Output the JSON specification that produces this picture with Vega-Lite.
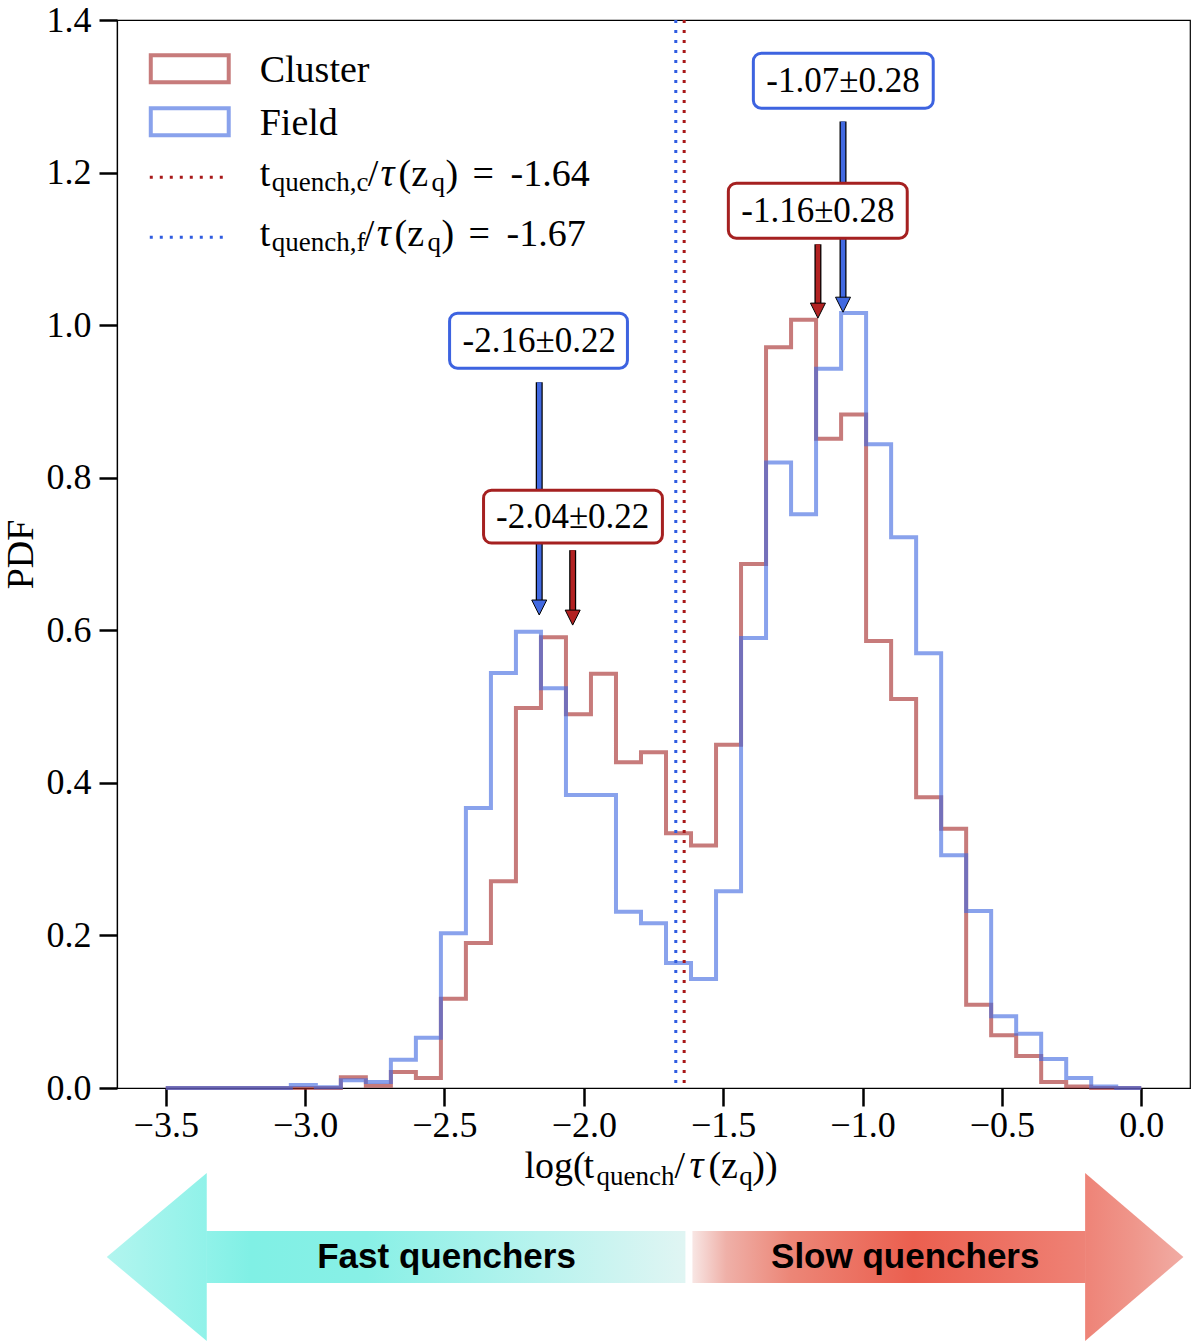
{
  "$schema": "https://vega.github.io/schema/vega-lite/v6.json",
  "width": 1073,
  "height": 1068,
  "autosize": {"type": "none"},
  "padding": {"left": 117, "top": 20, "right": 10, "bottom": 254},
  "background": "white",
  "config": {
    "view": {"stroke": "black", "strokeWidth": 1.2},
    "font": "Liberation Serif",
    "axis": {
      "labelFont": "Liberation Serif", "labelFontSize": 36, "labelColor": "black",
      "tickColor": "black", "tickWidth": 2.5, "tickSize": 18,
      "domainColor": "black", "domainWidth": 1.2, "grid": false,
      "titleFont": "Liberation Serif", "titleFontWeight": "normal", "titleColor": "black"
    }
  },
  "datasets": {
    "hist": [
      {"group": "Cluster", "edge": -3.5, "pdf": 0}, {"group": "Cluster", "edge": -3.4103, "pdf": 0}, {"group": "Cluster", "edge": -3.3205, "pdf": 0}, {"group": "Cluster", "edge": -3.2308, "pdf": 0}, {"group": "Cluster", "edge": -3.141, "pdf": 0}, {"group": "Cluster", "edge": -3.0513, "pdf": 0}, {"group": "Cluster", "edge": -2.9615, "pdf": 0}, {"group": "Cluster", "edge": -2.8718, "pdf": 0.014}, {"group": "Cluster", "edge": -2.7821, "pdf": 0.003}, {"group": "Cluster", "edge": -2.6923, "pdf": 0.021}, {"group": "Cluster", "edge": -2.6026, "pdf": 0.013}, {"group": "Cluster", "edge": -2.5128, "pdf": 0.117}, {"group": "Cluster", "edge": -2.4231, "pdf": 0.19}, {"group": "Cluster", "edge": -2.3333, "pdf": 0.271}, {"group": "Cluster", "edge": -2.2436, "pdf": 0.498}, {"group": "Cluster", "edge": -2.1538, "pdf": 0.591}, {"group": "Cluster", "edge": -2.0641, "pdf": 0.49}, {"group": "Cluster", "edge": -1.9744, "pdf": 0.543}, {"group": "Cluster", "edge": -1.8846, "pdf": 0.427}, {"group": "Cluster", "edge": -1.7949, "pdf": 0.44}, {"group": "Cluster", "edge": -1.7051, "pdf": 0.334}, {"group": "Cluster", "edge": -1.6154, "pdf": 0.318}, {"group": "Cluster", "edge": -1.5256, "pdf": 0.45}, {"group": "Cluster", "edge": -1.4359, "pdf": 0.687}, {"group": "Cluster", "edge": -1.3462, "pdf": 0.971}, {"group": "Cluster", "edge": -1.2564, "pdf": 1.007}, {"group": "Cluster", "edge": -1.1667, "pdf": 0.851}, {"group": "Cluster", "edge": -1.0769, "pdf": 0.883}, {"group": "Cluster", "edge": -0.9872, "pdf": 0.586}, {"group": "Cluster", "edge": -0.8974, "pdf": 0.51}, {"group": "Cluster", "edge": -0.8077, "pdf": 0.381}, {"group": "Cluster", "edge": -0.7179, "pdf": 0.34}, {"group": "Cluster", "edge": -0.6282, "pdf": 0.109}, {"group": "Cluster", "edge": -0.5385, "pdf": 0.069}, {"group": "Cluster", "edge": -0.4487, "pdf": 0.042}, {"group": "Cluster", "edge": -0.359, "pdf": 0.008}, {"group": "Cluster", "edge": -0.2692, "pdf": 0.002}, {"group": "Cluster", "edge": -0.1795, "pdf": 0}, {"group": "Cluster", "edge": -0.0897, "pdf": 0}, {"group": "Cluster", "edge": 0, "pdf": 0},
      {"group": "Field", "edge": -3.5, "pdf": 0}, {"group": "Field", "edge": -3.4103, "pdf": 0}, {"group": "Field", "edge": -3.3205, "pdf": 0}, {"group": "Field", "edge": -3.2308, "pdf": 0}, {"group": "Field", "edge": -3.141, "pdf": 0}, {"group": "Field", "edge": -3.0513, "pdf": 0.004}, {"group": "Field", "edge": -2.9615, "pdf": 0.001}, {"group": "Field", "edge": -2.8718, "pdf": 0.01}, {"group": "Field", "edge": -2.7821, "pdf": 0.008}, {"group": "Field", "edge": -2.6923, "pdf": 0.037}, {"group": "Field", "edge": -2.6026, "pdf": 0.066}, {"group": "Field", "edge": -2.5128, "pdf": 0.203}, {"group": "Field", "edge": -2.4231, "pdf": 0.367}, {"group": "Field", "edge": -2.3333, "pdf": 0.544}, {"group": "Field", "edge": -2.2436, "pdf": 0.598}, {"group": "Field", "edge": -2.1538, "pdf": 0.524}, {"group": "Field", "edge": -2.0641, "pdf": 0.384}, {"group": "Field", "edge": -1.9744, "pdf": 0.384}, {"group": "Field", "edge": -1.8846, "pdf": 0.231}, {"group": "Field", "edge": -1.7949, "pdf": 0.216}, {"group": "Field", "edge": -1.7051, "pdf": 0.164}, {"group": "Field", "edge": -1.6154, "pdf": 0.143}, {"group": "Field", "edge": -1.5256, "pdf": 0.258}, {"group": "Field", "edge": -1.4359, "pdf": 0.59}, {"group": "Field", "edge": -1.3462, "pdf": 0.82}, {"group": "Field", "edge": -1.2564, "pdf": 0.752}, {"group": "Field", "edge": -1.1667, "pdf": 0.943}, {"group": "Field", "edge": -1.0769, "pdf": 1.016}, {"group": "Field", "edge": -0.9872, "pdf": 0.844}, {"group": "Field", "edge": -0.8974, "pdf": 0.722}, {"group": "Field", "edge": -0.8077, "pdf": 0.57}, {"group": "Field", "edge": -0.7179, "pdf": 0.305}, {"group": "Field", "edge": -0.6282, "pdf": 0.232}, {"group": "Field", "edge": -0.5385, "pdf": 0.094}, {"group": "Field", "edge": -0.4487, "pdf": 0.071}, {"group": "Field", "edge": -0.359, "pdf": 0.038}, {"group": "Field", "edge": -0.2692, "pdf": 0.013}, {"group": "Field", "edge": -0.1795, "pdf": 0.002}, {"group": "Field", "edge": -0.0897, "pdf": 0}, {"group": "Field", "edge": 0, "pdf": 0}
    ],
    "thresholds": [
      {"group": "Cluster", "value": -1.64},
      {"group": "Field", "value": -1.67}
    ],
    "medians": [
      {"group": "Field", "value": -2.16, "label": "-2.16±0.22", "start": 0.925, "base": 0.6396, "tip": 0.62, "bx1": -2.4817, "bx2": -1.8435, "by1": 1.0157, "by2": 0.9436, "ty": 0.9797},
      {"group": "Cluster", "value": -2.04, "label": "-2.04±0.22", "start": 0.705, "base": 0.6265, "tip": 0.6068, "bx1": -2.3598, "bx2": -1.718, "by1": 0.7837, "by2": 0.7143, "ty": 0.749},
      {"group": "Field", "value": -1.07, "label": "-1.07±0.28", "start": 1.267, "base": 1.0354, "tip": 1.017, "bx1": -1.3917, "bx2": -0.7463, "by1": 1.3565, "by2": 1.2844, "ty": 1.3204},
      {"group": "Cluster", "value": -1.16, "label": "-1.16±0.28", "start": 1.106, "base": 1.0262, "tip": 1.0092, "bx1": -1.4814, "bx2": -0.8396, "by1": 1.1861, "by2": 1.114, "ty": 1.15}
    ],
    "legendPatches": [
      {"group": "Cluster", "x1": -3.5538, "x2": -3.2741, "y1": 1.3538, "y2": 1.3185},
      {"group": "Field", "x1": -3.5538, "x2": -3.2741, "y1": 1.2844, "y2": 1.249}
    ],
    "legendLines": [
      {"group": "Cluster", "x1": -3.5574, "x2": -3.2813, "y": 1.194},
      {"group": "Field", "x1": -3.5574, "x2": -3.2813, "y": 1.1153}
    ],
    "labels": [
      {"text": "Cluster", "x": -3.163, "y": 1.3185, "part": "main"},
      {"text": "Field", "x": -3.163, "y": 1.249, "part": "main"},
      {"text": "t", "x": -3.163, "y": 1.1822, "part": "main"},
      {"text": "quench,c", "x": -3.1199, "y": 1.1756, "part": "sub"},
      {"text": "/", "x": -2.7757, "y": 1.1822, "part": "main"},
      {"text": "τ", "x": -2.7291, "y": 1.1822, "part": "italic"},
      {"text": "(z", "x": -2.6646, "y": 1.1822, "part": "main"},
      {"text": "q", "x": -2.5463, "y": 1.1756, "part": "sub"},
      {"text": ")", "x": -2.4961, "y": 1.1822, "part": "main"},
      {"text": "=", "x": -2.3993, "y": 1.1822, "part": "main"},
      {"text": "-1.64", "x": -2.263, "y": 1.1822, "part": "main"},
      {"text": "t", "x": -3.163, "y": 1.1035, "part": "main"},
      {"text": "quench,f", "x": -3.1199, "y": 1.097, "part": "sub"},
      {"text": "/", "x": -2.79, "y": 1.1035, "part": "main"},
      {"text": "τ", "x": -2.7434, "y": 1.1035, "part": "italic"},
      {"text": "(z", "x": -2.6789, "y": 1.1035, "part": "main"},
      {"text": "q", "x": -2.5606, "y": 1.097, "part": "sub"},
      {"text": ")", "x": -2.5104, "y": 1.1035, "part": "main"},
      {"text": "=", "x": -2.4136, "y": 1.1035, "part": "main"},
      {"text": "-1.67", "x": -2.2773, "y": 1.1035, "part": "main"},
      {"text": "log(", "x": -2.2128, "y": -0.118, "part": "main"},
      {"text": "t", "x": -2.0013, "y": -0.118, "part": "main"},
      {"text": "quench", "x": -1.9546, "y": -0.1271, "part": "sub"},
      {"text": "/", "x": -1.675, "y": -0.118, "part": "main"},
      {"text": "τ", "x": -1.6212, "y": -0.118, "part": "italic"},
      {"text": "(z", "x": -1.5531, "y": -0.118, "part": "main"},
      {"text": "q", "x": -1.4419, "y": -0.1271, "part": "sub"},
      {"text": "))", "x": -1.3953, "y": -0.118, "part": "main"}
    ],
    "arrowBodies": [
      {"name": "fast", "x1": -3.355, "x2": -1.6355, "top": -0.1874, "bottom": -0.2556},
      {"name": "slow", "x1": -1.6104, "x2": -0.1993, "top": -0.1874, "bottom": -0.2556}
    ],
    "arrowHeads": [
      {"name": "fast", "x": -3.353, "y": -0.2215},
      {"name": "slow", "x": -0.2013, "y": -0.2215}
    ],
    "arrowLabels": [
      {"text": "Fast quenchers", "x": -2.4925, "y": -0.2215},
      {"text": "Slow quenchers", "x": -0.8467, "y": -0.2215}
    ]
  },
  "resolve": {"scale": {"stroke": "independent", "fill": "independent"}},
  "layer": [
    {
      "data": {"name": "arrowBodies"},
      "transform": [{"filter": "datum.name == 'fast'"}],
      "mark": {"type": "rect", "strokeWidth": 0,
               "fill": {"gradient": "linear", "x1": 0, "y1": 0, "x2": 1, "y2": 0,
                        "stops": [{"offset": 0, "color": "#90f2e9"}, {"offset": 0.094, "color": "#80f0e5"}, {"offset": 0.334, "color": "#88f0e6"}, {"offset": 0.697, "color": "#b8f3ee"}, {"offset": 1, "color": "#e0f5f3"}]}},
      "encoding": {
        "x": {"field": "x1", "type": "quantitative"},
        "x2": {"field": "x2"},
        "y": {"field": "top", "type": "quantitative"},
        "y2": {"field": "bottom"}
      }
    },
    {
      "data": {"name": "arrowHeads"},
      "transform": [{"filter": "datum.name == 'fast'"}],
      "mark": {"type": "point", "shape": "M0,-1L0,1L-1.19,0Z", "size": 28224, "filled": true, "opacity": 1, "strokeWidth": 0,
               "fill": {"gradient": "linear", "x1": 0, "y1": 0, "x2": 1, "y2": 0,
                        "stops": [{"offset": 0, "color": "#b2f5ef"}, {"offset": 1, "color": "#90f2e9"}]}},
      "encoding": {
        "x": {"field": "x", "type": "quantitative"},
        "y": {"field": "y", "type": "quantitative"}
      }
    },
    {
      "data": {"name": "arrowBodies"},
      "transform": [{"filter": "datum.name == 'slow'"}],
      "mark": {"type": "rect", "strokeWidth": 0,
               "fill": {"gradient": "linear", "x1": 0, "y1": 0, "x2": 1, "y2": 0,
                        "stops": [{"offset": 0, "color": "#f8e6e4"}, {"offset": 0.086, "color": "#efb0a8"}, {"offset": 0.249, "color": "#ec8677"}, {"offset": 0.561, "color": "#eb5f4f"}, {"offset": 0.937, "color": "#ee7d70"}, {"offset": 1, "color": "#ee8377"}]}},
      "encoding": {
        "x": {"field": "x1", "type": "quantitative"},
        "x2": {"field": "x2"},
        "y": {"field": "top", "type": "quantitative"},
        "y2": {"field": "bottom"}
      }
    },
    {
      "data": {"name": "arrowHeads"},
      "transform": [{"filter": "datum.name == 'slow'"}],
      "mark": {"type": "point", "shape": "M0,-1L0,1L1.17,0Z", "size": 28224, "filled": true, "opacity": 1, "strokeWidth": 0,
               "fill": {"gradient": "linear", "x1": 0, "y1": 0, "x2": 1, "y2": 0,
                        "stops": [{"offset": 0, "color": "#ee8377"}, {"offset": 0.5, "color": "#ef968b"}, {"offset": 1, "color": "#f1aca4"}]}},
      "encoding": {
        "x": {"field": "x", "type": "quantitative"},
        "y": {"field": "y", "type": "quantitative"}
      }
    },
    {
      "data": {"name": "arrowLabels"},
      "mark": {"type": "text", "font": "Liberation Sans", "fontWeight": "bold", "fontSize": 35, "align": "center", "baseline": "middle", "color": "black"},
      "encoding": {
        "x": {"field": "x", "type": "quantitative"},
        "y": {"field": "y", "type": "quantitative"},
        "text": {"field": "text", "type": "nominal"}
      }
    },
    {
      "data": {"name": "hist"},
      "mark": {"type": "line", "interpolate": "step-after", "strokeWidth": 4, "strokeOpacity": 0.62, "strokeJoin": "miter", "strokeCap": "butt"},
      "encoding": {
        "x": {"field": "edge", "type": "quantitative",
              "scale": {"domain": [-3.675, 0.175], "nice": false, "zero": false},
              "axis": {"values": [-3.5, -3, -2.5, -2, -1.5, -1, -0.5, 0], "format": ".1f", "title": null, "labelPadding": 2, "labelFlush": false, "labelOverlap": false}},
        "y": {"field": "pdf", "type": "quantitative",
              "scale": {"domain": [0, 1.4], "nice": false, "zero": false},
              "axis": {"values": [0, 0.2, 0.4, 0.6, 0.8, 1.0, 1.2, 1.4], "format": ".1f", "title": "PDF", "titleFontSize": 38, "titlePadding": 6, "labelPadding": 8, "labelFlush": false, "labelOverlap": false}},
        "stroke": {"field": "group", "type": "nominal", "scale": {"domain": ["Cluster", "Field"], "range": ["#a52a2a", "#4169e1"]}, "legend": null}
      }
    },
    {
      "data": {"name": "thresholds"},
      "mark": {"type": "rule", "strokeWidth": 3, "strokeDash": [3, 7]},
      "encoding": {
        "x": {"field": "value", "type": "quantitative"},
        "stroke": {"field": "group", "type": "nominal", "scale": {"domain": ["Cluster", "Field"], "range": ["#a81818", "#2f5ce0"]}, "legend": null}
      }
    },
    {
      "data": {"name": "medians"},
      "mark": {"type": "rule", "strokeWidth": 7, "color": "black"},
      "encoding": {
        "x": {"field": "value", "type": "quantitative"},
        "y": {"field": "start", "type": "quantitative"},
        "y2": {"field": "base"}
      }
    },
    {
      "data": {"name": "medians"},
      "mark": {"type": "rule", "strokeWidth": 4.5},
      "encoding": {
        "x": {"field": "value", "type": "quantitative"},
        "y": {"field": "start", "type": "quantitative"},
        "y2": {"field": "base"},
        "stroke": {"field": "group", "type": "nominal", "scale": {"domain": ["Cluster", "Field"], "range": ["#b22222", "#4169e1"]}, "legend": null}
      }
    },
    {
      "data": {"name": "medians"},
      "mark": {"type": "point", "shape": "M-0.5,-1L0.5,-1L0,0Z", "size": 900, "filled": true, "opacity": 1, "stroke": "black", "strokeWidth": 1},
      "encoding": {
        "x": {"field": "value", "type": "quantitative"},
        "y": {"field": "tip", "type": "quantitative"},
        "fill": {"field": "group", "type": "nominal", "scale": {"domain": ["Cluster", "Field"], "range": ["#b22222", "#4169e1"]}, "legend": null}
      }
    },
    {
      "data": {"name": "medians"},
      "mark": {"type": "rect", "fill": "white", "strokeWidth": 3, "cornerRadius": 8},
      "encoding": {
        "x": {"field": "bx1", "type": "quantitative"},
        "x2": {"field": "bx2"},
        "y": {"field": "by1", "type": "quantitative"},
        "y2": {"field": "by2"},
        "stroke": {"field": "group", "type": "nominal", "scale": {"domain": ["Cluster", "Field"], "range": ["#a52020", "#3d63e0"]}, "legend": null}
      }
    },
    {
      "data": {"name": "medians"},
      "mark": {"type": "text", "font": "Liberation Serif", "fontSize": 35, "align": "center", "baseline": "middle", "color": "black"},
      "encoding": {
        "x": {"field": "value", "type": "quantitative"},
        "y": {"field": "ty", "type": "quantitative"},
        "text": {"field": "label", "type": "nominal"}
      }
    },
    {
      "data": {"name": "legendPatches"},
      "mark": {"type": "rect", "filled": false, "strokeWidth": 4, "strokeOpacity": 0.62},
      "encoding": {
        "x": {"field": "x1", "type": "quantitative"},
        "x2": {"field": "x2"},
        "y": {"field": "y1", "type": "quantitative"},
        "y2": {"field": "y2"},
        "stroke": {"field": "group", "type": "nominal", "scale": {"domain": ["Cluster", "Field"], "range": ["#a52a2a", "#4169e1"]}, "legend": null}
      }
    },
    {
      "data": {"name": "legendLines"},
      "mark": {"type": "rule", "strokeWidth": 3, "strokeDash": [3, 7]},
      "encoding": {
        "x": {"field": "x1", "type": "quantitative"},
        "x2": {"field": "x2"},
        "y": {"field": "y", "type": "quantitative"},
        "stroke": {"field": "group", "type": "nominal", "scale": {"domain": ["Cluster", "Field"], "range": ["#a81818", "#2f5ce0"]}, "legend": null}
      }
    },
    {
      "data": {"name": "labels"},
      "transform": [{"filter": "datum.part == 'main'"}],
      "mark": {"type": "text", "font": "Liberation Serif", "fontSize": 38, "align": "left", "baseline": "alphabetic", "color": "black"},
      "encoding": {
        "x": {"field": "x", "type": "quantitative"},
        "y": {"field": "y", "type": "quantitative"},
        "text": {"field": "text", "type": "nominal"}
      }
    },
    {
      "data": {"name": "labels"},
      "transform": [{"filter": "datum.part == 'italic'"}],
      "mark": {"type": "text", "font": "Liberation Serif", "fontStyle": "italic", "fontSize": 39, "align": "left", "baseline": "alphabetic", "color": "black"},
      "encoding": {
        "x": {"field": "x", "type": "quantitative"},
        "y": {"field": "y", "type": "quantitative"},
        "text": {"field": "text", "type": "nominal"}
      }
    },
    {
      "data": {"name": "labels"},
      "transform": [{"filter": "datum.part == 'sub'"}],
      "mark": {"type": "text", "font": "Liberation Serif", "fontSize": 27, "align": "left", "baseline": "alphabetic", "color": "black"},
      "encoding": {
        "x": {"field": "x", "type": "quantitative"},
        "y": {"field": "y", "type": "quantitative"},
        "text": {"field": "text", "type": "nominal"}
      }
    }
  ]
}
